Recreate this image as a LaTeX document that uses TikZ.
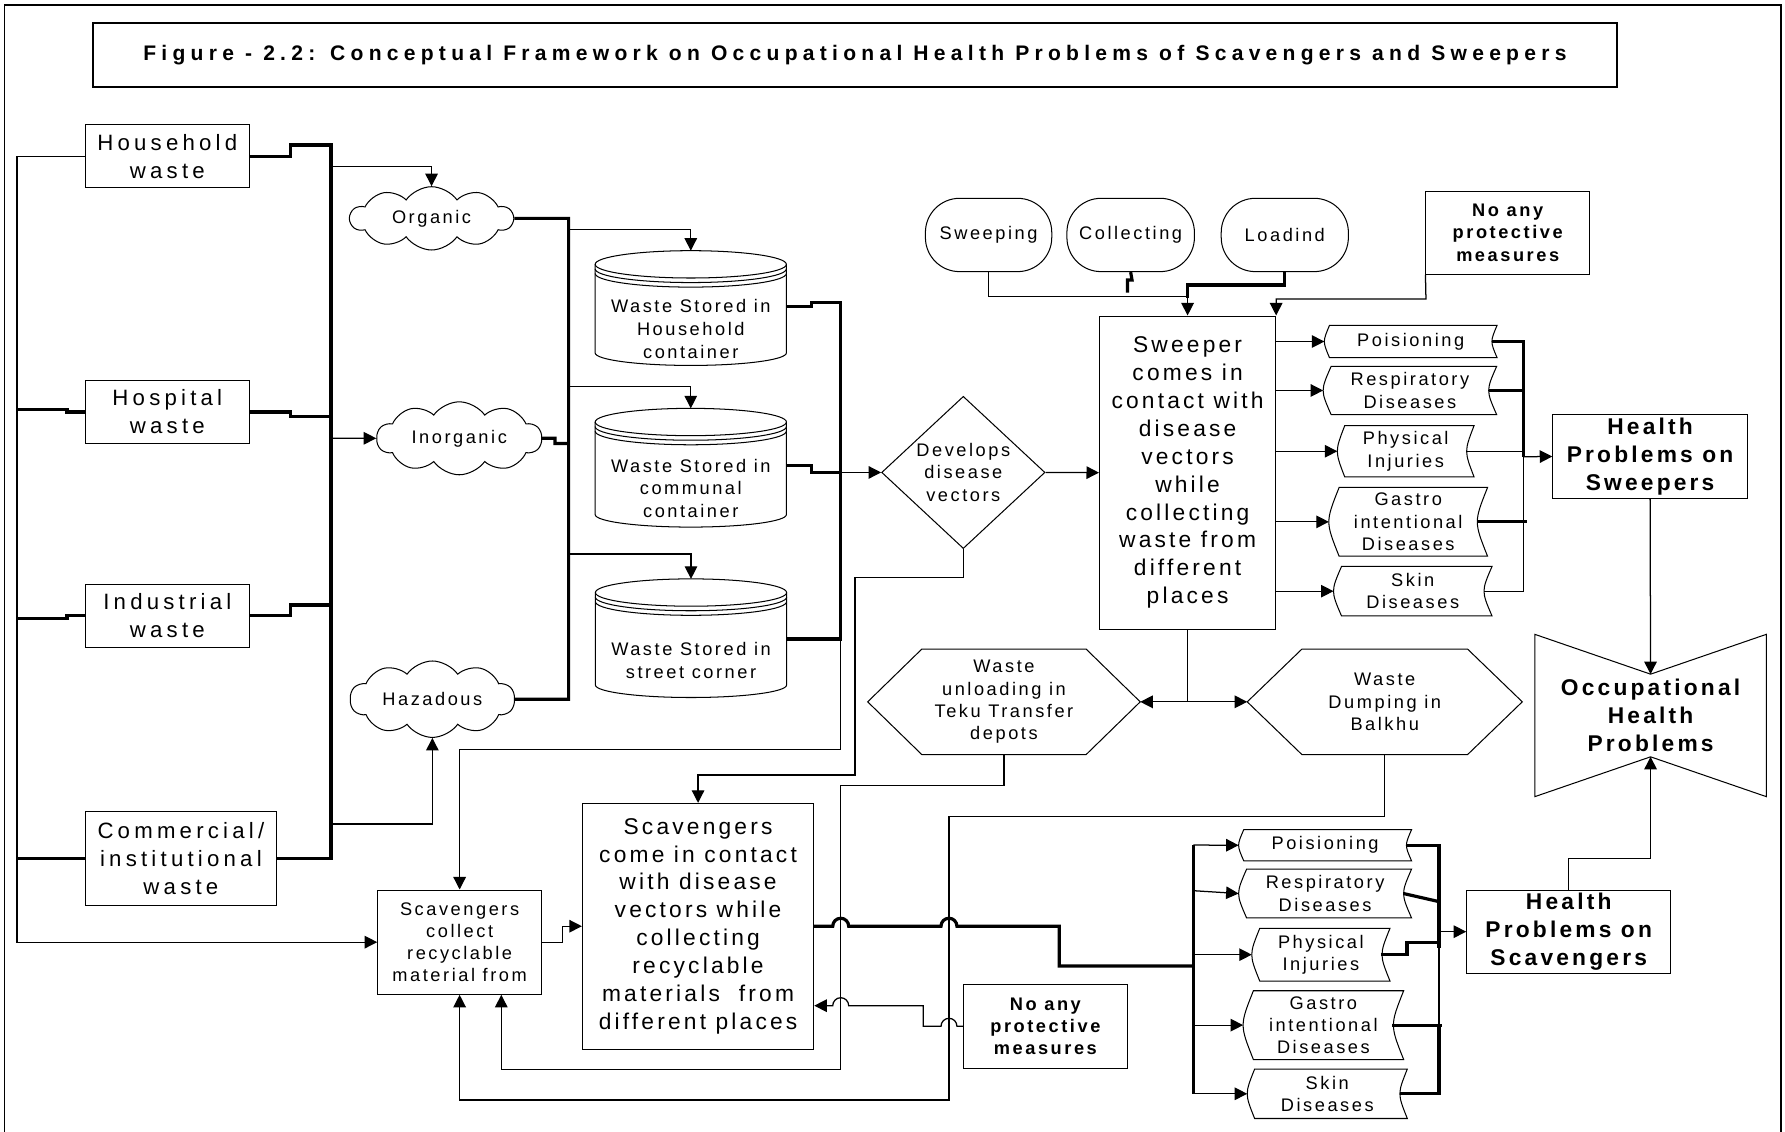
\documentclass[tikz,border=0pt]{standalone}
\usepackage{fontspec}
\setmainfont{Liberation Sans}[LetterSpace=14]
\newfontfamily\titlefont{Liberation Sans}[LetterSpace=25]
\newfontfamily\srcfont{Liberation Sans}[LetterSpace=19]
\usepackage{tikz}
\usetikzlibrary{shapes.geometric, shapes.symbols, arrows.meta}
\tikzstyle{frame} = [line width=1.6pt]
\tikzstyle{outline} = [line width=0.9pt]
\tikzstyle{src} = [rectangle, draw, outline, align=center, inner sep=0pt, font=\srcfont\fontsize{19.5}{24.5}\selectfont]
\tikzstyle{blob} = [cloud, draw, outline, cloud puffs=10, cloud puff arc=110, aspect=2.5, inner sep=0pt, font=\fontsize{16}{19.5}\selectfont]
\tikzstyle{drum} = [rectangle, minimum width=168.3pt, align=center, inner sep=0pt, font=\fontsize{16}{20}\selectfont]
\tikzstyle{decision} = [diamond, draw, outline, minimum width=143.5pt, minimum height=127.3pt, inner sep=0pt, align=center, font=\fontsize{16}{19.8}\selectfont]
\tikzstyle{oval} = [rectangle, rounded corners=30pt, draw, outline, minimum height=64.4pt, font=\fontsize{16}{19.5}\selectfont]
\tikzstyle{note} = [rectangle, draw, outline, align=center, inner sep=0pt, font=\bfseries\fontsize{16}{19.5}\selectfont]
\tikzstyle{process} = [rectangle, draw, outline, align=center, inner sep=0pt, font=\fontsize{20}{24.5}\selectfont]
\tikzstyle{smallprocess} = [rectangle, draw, outline, align=center, inner sep=0pt, font=\fontsize{16}{19.5}\selectfont]
\tikzstyle{scroll} = [rectangle, align=center, inner sep=0pt, font=\fontsize{16}{19.5}\selectfont]
\tikzstyle{hex} = [rectangle, align=center, inner sep=0pt, minimum height=92.2pt, font=\fontsize{16}{19.5}\selectfont]
\tikzstyle{result} = [rectangle, draw, outline, align=center, inner sep=0pt, font=\bfseries\fontsize{20}{24.5}\selectfont]
\tikzstyle{link} = [line width=1.1pt]
\tikzstyle{heavy} = [line width=2.8pt]
\tikzstyle{arrow} = [link, -{Triangle[length=11pt,width=11pt]}]
\newcommand{\drawdrum}[3]{%
    \draw [outline] ([shift={(-84pt,#2-12pt)}]#1.center) arc[start angle=180, end angle=-180, x radius=84pt, y radius=12pt];
    \draw [outline] ([shift={(-84pt,#2-16pt)}]#1.center) arc[start angle=180, end angle=360, x radius=84pt, y radius=12pt];
    \draw [outline] ([shift={(-84pt,#2-20pt)}]#1.center) arc[start angle=180, end angle=360, x radius=84pt, y radius=12pt];
    \draw [outline] ([shift={(-84pt,#2-12pt)}]#1.center) -- ([shift={(-84pt,-#3)}]#1.center) arc[start angle=180, end angle=360, x radius=84pt, y radius=11pt] -- ([shift={(84pt,#2-12pt)}]#1.center);}
\newcommand{\drawscroll}[2]{%
    \draw [outline] ([xshift=#2]#1.north west) .. controls ([xshift=-#2/3]#1.west) .. ([xshift=#2]#1.south west) -- (#1.south east) .. controls ([xshift=-4*#2/3]#1.east) .. (#1.north east) -- cycle;}
\newcommand{\drawhex}[2]{%
    \draw [outline] (#1.west) -- ([xshift=#2]#1.north west) -- ([xshift=-#2]#1.north east) -- (#1.east) -- ([xshift=-#2]#1.south east) -- ([xshift=#2]#1.south west) -- cycle;}
\newcommand{\drawbow}[2]{%
    \draw [outline] (#1.north west) -- ([yshift=-#2]#1.north) -- (#1.north east) -- (#1.south east) -- ([yshift=#2]#1.south) -- (#1.south west) -- cycle;}

\begin{document}
\begin{tikzpicture}[x=1pt, y=-1pt]
    \useasboundingbox (0,0) rectangle (1568,994);
    \draw [frame] (4,994) -- (4,4.4) -- (1564.5,4.4) -- (1564.5,994);
    \node (title) [rectangle, draw, frame, minimum width=1338.5pt, minimum height=55.6pt, font=\titlefont\bfseries\fontsize{18.5}{22}\selectfont] at (751,48.3) {Figure - 2.2: Conceptual Framework on Occupational Health Problems of Scavengers and Sweepers};

    \node (hh) [src, minimum width=144pt, minimum height=55.4pt] at (147,137.3) {Household\\waste};
    \node (hosp) [src, minimum width=144pt, minimum height=55pt] at (147,361.9) {Hospital\\waste};
    \node (ind) [src, minimum width=144pt, minimum height=55.3pt] at (147,541) {Industrial\\waste};
    \node (comm) [src, minimum width=167.7pt, minimum height=82.6pt] at (158.9,754.3) {Commercial/\\institutional\\waste};

    \node (org) [blob, minimum width=142.9pt, minimum height=55.6pt] at (379.1,191.8) {Organic};
    \node (inorg) [blob, minimum width=144.7pt, minimum height=56pt] at (403.4,385) {Inorganic};
    \node (haz) [blob, minimum width=144.4pt, minimum height=54.3pt] at (379.8,614.2) {Hazadous};

    \node (cylA) [drum] at (606.8,289) {Waste Stored in\\Household\\container};
    \node (cylB) [drum] at (606.8,429) {Waste Stored in\\communal\\container};
    \node (cylC) [drum] at (607,580.5) {Waste Stored in\\street corner};
    \drawdrum{cylA}{68.8pt}{21pt}
    \drawdrum{cylB}{70.3pt}{23pt}
    \drawdrum{cylC}{72pt}{21.2pt}

    \node (dia) [decision] at (846.2,415) {Develops\\disease\\vectors};

    \node (swp) [oval, minimum width=111pt] at (868.4,206.4) {Sweeping};
    \node (col) [oval, minimum width=112pt] at (993.2,206.4) {Collecting};
    \node (load) [oval, minimum width=111.7pt] at (1128.6,206.4) {Loadind};
    \node (protS) [note, minimum width=143.6pt, minimum height=73.2pt] at (1324.4,204.4) {No any\\protective\\measures};

    \node (swpbox) [process, minimum width=154.7pt, minimum height=275.2pt] at (1043.2,415.2) {Sweeper\\comes in\\contact with\\disease\\vectors\\while\\collecting\\waste from\\different\\places};

    \node (sp1) [scroll, minimum width=151.3pt, minimum height=28pt] at (1239.2,300) {Poisioning};
    \node (sp2) [scroll, minimum width=152pt, minimum height=42pt] at (1238.5,343) {Respiratory\\Diseases};
    \node (sp3) [scroll, minimum width=119.7pt, minimum height=44.7pt] at (1234.8,396.4) {Physical\\Injuries};
    \node (sp4) [scroll, minimum width=139pt, minimum height=60pt] at (1237,458.4) {Gastro\\intentional\\Diseases};
    \node (sp5) [scroll, minimum width=138.8pt, minimum height=43pt] at (1241,519.3) {Skin\\Diseases};
    \drawscroll{sp1}{4.5pt}
    \drawscroll{sp2}{7pt}
    \drawscroll{sp3}{6.5pt}
    \drawscroll{sp4}{9pt}
    \drawscroll{sp5}{7pt}

    \node (hps) [result, minimum width=171pt, minimum height=74pt] at (1449.5,401) {Health\\Problems on\\Sweepers};
    \node (occ) [rectangle, align=center, inner sep=0pt, minimum width=203pt, minimum height=142.2pt, font=\bfseries\fontsize{20}{24.5}\selectfont] at (1449.9,628.5) {Occupational\\Health\\Problems};
    \drawbow{occ}{35pt}

    \node (teku) [hex, minimum width=239pt] at (881.9,616.5) {Waste\\unloading in\\Teku Transfer\\depots};
    \node (balk) [hex, minimum width=241.2pt] at (1216.4,616.5) {Waste\\Dumping in\\Balkhu};
    \drawhex{teku}{47.5pt}
    \drawhex{balk}{48pt}

    \node (scol) [smallprocess, minimum width=143.9pt, minimum height=91.6pt] at (403.75,827.6) {Scavengers\\collect\\recyclable\\material from};
    \node (scbig) [process, minimum width=203.2pt, minimum height=215.8pt] at (613.2,813.6) {Scavengers\\come in contact\\with disease\\vectors while\\collecting\\recyclable\\materials~~from\\different places};
    \node (protB) [note, minimum width=144pt, minimum height=73.8pt] at (918.3,901.5) {No any\\protective\\measures};

    \node (sc1) [scroll, minimum width=151.5pt, minimum height=27pt] at (1164,742.5) {Poisioning};
    \node (sc2) [scroll, minimum width=151.5pt, minimum height=42.5pt] at (1164,784.9) {Respiratory\\Diseases};
    \node (sc3) [scroll, minimum width=121pt, minimum height=46pt] at (1160.3,838.6) {Physical\\Injuries};
    \node (sc4) [scroll, minimum width=140.6pt, minimum height=60pt] at (1162.5,900.5) {Gastro\\intentional\\Diseases};
    \node (sc5) [scroll, minimum width=140.2pt, minimum height=43pt] at (1165.9,960.8) {Skin\\Diseases};
    \drawscroll{sc1}{4.5pt}
    \drawscroll{sc2}{7pt}
    \drawscroll{sc3}{7pt}
    \drawscroll{sc4}{9pt}
    \drawscroll{sc5}{6.5pt}

    \node (hpsc) [result, minimum width=179.2pt, minimum height=73pt] at (1378,818.4) {Health\\Problems on\\Scavengers};

    \draw [arrow] (hh.west) -| (15,827.6) -- (scol.west);
    \draw [heavy] (hosp.west) -- (58.8,361.9) -- (58.8,359.5) -- (15,359.5);
    \draw [heavy] (ind.west) -- (58.8,541) -- (58.8,543.2) -- (15,543.2);
    \draw [heavy] (comm.west) -- (15,754.3);
    \draw [heavy] (hh.east) -- (255.5,137.3) -- (255.5,127.4) -- (290.8,127.4) -- (290.8,754.3) -- (comm.east);
    \draw [heavy] (hosp.east) -- (255.5,361.9) -- (255.5,366) -- (290.8,366);
    \draw [heavy] (ind.east) -- (255.5,541) -- (255.5,531.5) -- (290.8,531.5);
    \draw [arrow] (290.8,146.4) -| (org.north);
    \draw [arrow] (290.8,385) -- (inorg.west);
    \draw [arrow] (290.8,723.8) -| (haz.south);
    \draw [heavy] (org.east) -| (499.5,614.2) -- (haz.east);
    \draw [heavy] (inorg.east) -- (487.5,385) -- (487.5,389.5) -- (499.5,389.5);
    \draw [arrow] (499.5,201.4) -| ([yshift=68.8pt]cylA.center);
    \draw [arrow] (499.5,339.7) -| ([yshift=70.3pt]cylB.center);
    \draw [arrow] (499.5,486.6) -| ([yshift=72pt]cylC.center);
    \draw [heavy] ([yshift=19.6pt]cylA.east) -- (713,269.4) -- (713,265.9) -- (738.5,265.9) -- (738.5,561.3) -- ([yshift=19.2pt]cylC.east);
    \draw [heavy] ([yshift=20pt]cylB.east) -- (713,409) -- (713,415) -- (738.5,415);
    \draw [arrow] (738.5,415) -- (dia.west);
    \draw [arrow] (738.5,561.3) -- (738.5,658.2) -| (scol.north);
    \draw [arrow] (dia.south) |- (751,507) -- (751,680.8) -| (scbig.north);
    \draw [arrow] (dia.east) -- (swpbox.west);

    \draw [link] (swp.south) |- (1043.2,260.6);
    \draw [heavy] (col.south) -- (994.4,246) -- (990.4,246) -- (990.4,257);
    \draw [heavy] (load.south) |- (1043.2,250.4) -- (1043.2,262);
    \draw [arrow] (1043.2,260.6) -- (swpbox.north);
    \draw [arrow] (protS.south west) -- (1252.6,262.7) -| (swpbox.north east);

    \draw [arrow] (swpbox.east |- sp1.west) -- (sp1.west);
    \draw [arrow] (swpbox.east |- sp2.west) -- (sp2.west);
    \draw [arrow] (swpbox.east |- sp3.west) -- (sp3.west);
    \draw [arrow] (swpbox.east |- sp4.west) -- (sp4.west);
    \draw [arrow] (swpbox.east |- sp5.west) -- (sp5.west);
    \draw [heavy] ([xshift=-4.5pt]sp1.east) -| (1338.2,401.2);
    \draw [heavy] ([xshift=-7pt]sp2.east) -- (1338.2,343);
    \draw [link] ([xshift=-6.5pt]sp3.east) -- (1338.2,396.4);
    \draw [heavy] ([xshift=-9pt]sp4.east) -- (1341.7,458.4);
    \draw [link] ([xshift=-7pt]sp5.east) -| (1338.2,401.2);
    \draw [arrow] (1338.2,401.2) -- (hps.west);
    \draw [arrow] (hps.south) -- ([yshift=-35pt]occ.north);

    \draw [link] (swpbox.south) -- (1043.2,616.5);
    \draw [arrow] (1043.2,616.5) -- (teku.east);
    \draw [arrow] (1043.2,616.5) -- (balk.west);
    \draw [arrow] (teku.south) |- (738.5,690.2) -- (738.5,939.3) -| ([xshift=36.6pt]scol.south);
    \draw [arrow] (balk.south) |- (833.6,717.4) -- (833.6,966.3) -| (scol.south);

    \draw [arrow] (scol.east) -- (494.2,827.6) |- (scbig.west);
    \draw [heavy] (scbig.east) -- (731.5,813.6) arc[start angle=180, end angle=0, radius=7pt] -- (826.6,813.6) arc[start angle=180, end angle=0, radius=7pt] -- (930.4,813.6) -- (930.4,848.6) -- (1048.3,848.6);
    \draw [arrow] (protB.west) -- (840.6,901.5) arc[start angle=0, end angle=180, radius=7pt] -- (811,901.5) -- (811,883.4) -- (745.5,883.4) arc[start angle=0, end angle=180, radius=7pt] -- (scbig.east |- 0,883.4);

    \draw [heavy] (1048.3,742.3) -- (1048.3,960.8);
    \draw [arrow] (1048.3,742.3) -- (sc1.west);
    \draw [arrow] (1048.3,782.4) -- (sc2.west);
    \draw [arrow] (1048.3,838.6) -- (sc3.west);
    \draw [arrow] (1048.3,900.5) -- (sc4.west);
    \draw [arrow] (1048.3,960.8) -- (sc5.west);
    \draw [heavy] ([xshift=-4.5pt]sc1.east) -| (1264,833);
    \draw [heavy] ([xshift=-7pt]sc2.east) -- (1264,792);
    \draw [heavy] ([xshift=-8pt]sc3.east) -- (1235.9,838.6) -- (1235.9,828) -- (1264,828);
    \draw [heavy] ([xshift=-10pt]sc4.east) -- (1267,900.5);
    \draw [heavy] ([xshift=-6.5pt]sc5.east) -| (1264,900.5);
    \draw [link] (1264,833) -- (1264,900.5);
    \draw [arrow] (1264,818.4) -- (hpsc.west);
    \draw [arrow] (hpsc.north) |- (1449.9,754) -- ([yshift=35pt]occ.south);
\end{tikzpicture}
\end{document}
